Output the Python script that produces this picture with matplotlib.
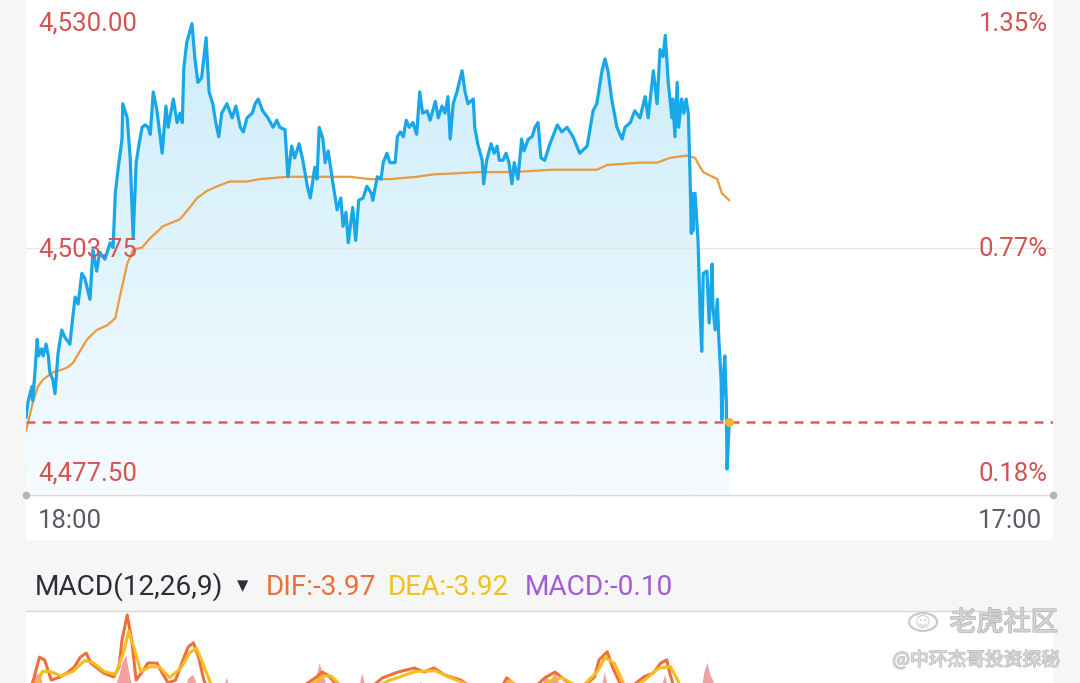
import numpy as np
import matplotlib
matplotlib.use("Agg")
import matplotlib.pyplot as plt
from matplotlib.patches import Polygon, Rectangle, Circle
from matplotlib.colors import LinearSegmentedColormap
import matplotlib.patheffects as pe

# ---------------- data ----------------
# minutes after 18:00 and last price
price_t = [0, 3, 8, 9, 12, 15, 17, 21, 23, 27,
           30, 32, 36, 39, 43, 48, 52, 59, 62, 66,
           70, 75, 79, 86, 90, 95, 99, 106, 113, 117,
           120, 124, 129, 130, 136, 140, 144, 148, 152, 156,
           160, 164, 167, 171, 176, 183, 188, 191, 198, 203,
           207, 210, 212, 216, 223, 227, 231, 236, 242, 246,
           251, 255, 259, 263, 270, 277, 282, 288, 292, 297,
           304, 308, 312, 318, 325, 332, 337, 341, 348, 352,
           357, 361, 367, 372, 378, 382, 388, 391, 394, 399,
           402, 406, 413, 418, 423, 426, 430, 433, 439, 443,
           447, 453, 458, 464, 466, 472, 477, 480, 485, 489,
           496, 499, 503, 507, 511, 515, 520, 525, 529, 533,
           539, 543, 550, 554, 559, 563, 567, 570, 574, 579,
           586, 590, 594, 601, 603, 607, 613, 615, 619, 625,
           629, 633, 636, 641, 645, 649, 653, 656, 661, 666,
           669, 675, 680, 684, 688, 692, 697, 704, 714, 720,
           727, 735, 744, 754, 762, 767, 774, 778, 782, 787,
           794, 801, 805, 812, 818, 825, 832, 836, 843, 848,
           852, 856, 859, 863, 868, 869, 872, 875, 877, 881,
           884, 887, 890, 892, 894, 895, 896, 899, 903, 906,
           908, 910, 915, 918, 922, 923, 926, 929, 931, 934,
           935, 937, 939, 941, 942, 945]
price = [4485.75, 4487.50, 4489.00, 4487.50, 4490.50, 4494.00, 4492.25, 4493.00, 4492.25, 4493.50,
         4492.25, 4490.50, 4489.75, 4488.25, 4492.50, 4495.00, 4494.25, 4493.50, 4495.75, 4498.50,
         4497.75, 4501.00, 4500.50, 4498.25, 4503.50, 4501.25, 4503.25, 4502.50, 4504.25, 4503.75,
         4509.50, 4512.25, 4515.25, 4519.00, 4517.50, 4513.25, 4504.75, 4512.75, 4514.75, 4516.50,
         4516.75, 4516.50, 4515.75, 4520.25, 4518.25, 4513.75, 4518.75, 4516.50, 4519.50, 4517.00,
         4518.00, 4517.00, 4522.75, 4525.50, 4527.50, 4523.75, 4521.25, 4521.75, 4526.00, 4520.25,
         4519.00, 4517.00, 4515.50, 4518.00, 4519.00, 4517.50, 4518.75, 4516.50, 4516.00, 4517.50,
         4518.00, 4519.00, 4519.50, 4518.25, 4517.50, 4516.50, 4517.25, 4516.50, 4516.25, 4511.25,
         4514.50, 4513.25, 4514.75, 4513.00, 4510.25, 4509.00, 4512.25, 4511.00, 4516.50, 4515.25,
         4512.75, 4514.00, 4510.25, 4507.75, 4509.00, 4506.00, 4507.50, 4504.25, 4508.00, 4504.50,
         4508.75, 4509.00, 4510.25, 4509.50, 4508.75, 4511.25, 4511.00, 4512.75, 4513.75, 4512.75,
         4512.75, 4515.50, 4516.00, 4515.50, 4517.25, 4516.50, 4517.00, 4515.75, 4520.25, 4518.00,
         4518.25, 4517.25, 4519.25, 4517.50, 4518.75, 4518.00, 4519.75, 4515.25, 4519.00, 4520.25,
         4522.50, 4520.25, 4519.00, 4519.50, 4516.50, 4514.75, 4513.00, 4510.50, 4513.00, 4514.75,
         4513.75, 4514.50, 4513.00, 4513.00, 4513.75, 4512.75, 4510.50, 4512.75, 4511.00, 4515.25,
         4514.00, 4515.25, 4515.50, 4516.50, 4517.00, 4513.25, 4513.00, 4514.75, 4516.75, 4516.00,
         4516.50, 4515.50, 4513.75, 4514.50, 4518.25, 4519.00, 4522.50, 4523.75, 4522.50, 4519.50,
         4516.50, 4515.25, 4516.50, 4517.00, 4518.25, 4517.50, 4519.75, 4517.50, 4522.50, 4519.00,
         4524.75, 4524.00, 4526.25, 4521.25, 4517.50, 4519.50, 4515.50, 4521.25, 4516.50, 4519.50,
         4518.00, 4519.50, 4518.00, 4512.25, 4505.25, 4509.50, 4505.50, 4509.50, 4504.50, 4496.50,
         4492.75, 4501.00, 4501.25, 4495.75, 4502.00, 4497.50, 4495.00, 4498.25, 4494.00, 4489.75,
         4485.50, 4489.75, 4492.25, 4487.50, 4480.25, 4485.25]

# average price line
avg_t = [0, 9, 16, 23, 36, 46, 55, 63, 82, 95, 109, 120, 126, 136, 144, 156, 167, 184,
         207, 220, 230, 243, 257, 274, 297, 314, 351, 404, 435, 462, 489, 525, 547, 610,
         654, 708, 767, 781, 825, 848, 865, 888, 899, 906, 910, 929, 935, 945]
avg_p = [4484.25, 4487.25, 4489.00, 4489.75, 4490.50, 4490.75, 4491.00, 4491.50, 4494.00,
         4495.00, 4495.50, 4496.25, 4498.50, 4502.00, 4503.50, 4503.75, 4504.75, 4506.00,
         4506.75, 4508.00, 4509.00, 4509.75, 4510.25, 4510.75, 4510.75, 4511.00, 4511.25,
         4511.25, 4511.25, 4511.00, 4511.00, 4511.25, 4511.50, 4511.75, 4511.75, 4512.00,
         4512.00, 4512.50, 4512.75, 4512.75, 4513.25, 4513.50, 4513.25, 4512.25, 4511.75,
         4511.00, 4509.50, 4508.75]

# MACD
dif_t = [0, 10, 18, 25, 34, 46, 55, 65, 73, 81, 87, 94, 104, 118, 125, 129, 136, 142, 148, 155,
         164, 176, 183, 191, 201, 211, 218, 225, 232, 239, 247, 264, 299, 340, 368, 389, 398,
         407, 423, 451, 479, 500, 522, 535, 548, 563, 584, 604, 637, 646, 657, 677, 697, 711,
         724, 744, 764, 770, 781, 788, 798, 809, 820, 830, 843, 853, 861, 865, 869, 879, 892,
         906, 926, 945]
dif_v = [-0.32, 0.32, 1.06, 0.97, 0.32, 0.42, 0.55, 0.74, 1.06, 1.19, 0.87, 0.74, 0.55, 0.42,
         0.74, 1.61, 2.42, 1.61, 0.32, 0.55, 0.87, 0.87, 0.55, 0.23, 0.32, 0.97, 1.39, 1.52,
         1.06, 0.32, -0.16, -0.32, -0.48, 0.0, 0.06, 0.39, 0.58, 0.45, 0.0, -0.16, 0.39, 0.58,
         0.71, 0.58, 0.71, 0.48, 0.32, 0.0, 0.0, 0.39, 0.16, -0.06, 0.39, 0.58, 0.32, 0.0,
         0.42, 0.97, 1.23, 0.74, 0.23, 0.0, 0.23, 0.42, 0.55, 0.87, 0.97, 0.55, 0.23, -0.32,
         -1.61, -2.90, -3.55, -3.97]
dea_t = [0, 14, 22, 32, 48, 63, 79, 89, 105, 120, 131, 138, 146, 154, 167, 179, 193, 208, 220,
         229, 237, 250, 270, 301, 343, 374, 400, 410, 427, 456, 487, 524, 550, 570, 606, 640,
         650, 662, 685, 705, 720, 745, 768, 778, 791, 804, 825, 850, 866, 876, 885, 900, 915,
         930, 945]
dea_v = [-0.25, 0.10, 0.60, 0.60, 0.45, 0.60, 0.95, 0.90, 0.60, 0.50, 1.20, 1.90, 1.30, 0.60,
         0.75, 0.75, 0.40, 0.70, 1.20, 1.35, 0.90, 0.10, -0.25, -0.40, -0.05, 0.05, 0.45, 0.45,
         0.05, -0.10, 0.30, 0.60, 0.62, 0.40, 0.05, 0.05, 0.30, 0.12, 0.00, 0.30, 0.40, 0.05,
         0.60, 1.05, 0.85, 0.15, 0.20, 0.70, 0.75, 0.30, -0.20, -1.30, -2.70, -3.40, -3.92]
hist_t = [0, 6, 13, 18, 23, 28, 118, 125, 129, 134, 138, 143, 212, 218, 224, 229, 235, 264,
          269, 275, 386, 390, 394, 400, 407, 446, 451, 457, 524, 530, 535, 692, 697, 704, 711,
          718, 772, 777, 782, 852, 858, 863, 907, 911, 915, 919, 923, 927, 945]
hist_v = [0, 0, 0.5, 0.55, 0.1, 0, 0, 0.5, 0.9, 1.13, 0.6, 0, 0, 0.4, 0.5, 0.2, 0, 0, 0.4, 0,
          0, 0.5, 0.87, 0.4, 0, 0, 0.55, 0, 0, 0.3, 0, 0, 0.5, 0.3, 0.6, 0, 0, 0.6, 0, 0, 0.5,
          0, 0, 0.6, 0.9, 0.5, 0.3, 0, -0.10]

y_labels = ["4,530.00", "4,503.75", "4,477.50"]
pct_labels = ["1.35%", "0.77%", "0.18%"]
time_labels = ["18:00", "17:00"]
session_minutes = 1380
y_lo, y_mid, y_hi = 4477.50, 4503.75, 4530.00

# ---------------- figure ----------------
plt.rcParams["font.family"] = ["Roboto", "DejaVu Sans"]
W, H = 1080, 683
fig = plt.figure(figsize=(W / 100, H / 100), dpi=100, facecolor="#f6f6f6")


def fx(x):
    return x / W


def fy(y):
    return 1 - y / H


# white panels
fig.add_artist(Rectangle((fx(26), fy(540)), 1027 / W, 540 / H, transform=fig.transFigure,
                         facecolor="white", edgecolor="none", zorder=0))
fig.add_artist(Rectangle((fx(26), 0), 1027 / W, (H - 610.5) / H, transform=fig.transFigure,
                         facecolor="white", edgecolor="none", zorder=0))
fig.add_artist(plt.Line2D([fx(26), fx(1053)], [fy(610.5), fy(610.5)], transform=fig.transFigure,
                          color="#d6d6d6", lw=0.9, zorder=1))

# main price axes
ax = fig.add_axes([fx(26), fy(495), 1027 / W, 495 / H])
ax.set_xlim(0, session_minutes)
ax.set_ylim(y_lo, y_hi)
ax.axis("off")
ax.patch.set_alpha(0)

# gradient fill under line
verts = list(zip(price_t, price)) + [(price_t[-1], y_lo), (price_t[0], y_lo)]
poly = Polygon(verts, closed=True, facecolor="none", edgecolor="none")
ax.add_patch(poly)
cmap = LinearSegmentedColormap.from_list("fill", ["#cbecfa", "#e0f4fc", "#f7fcff"])
grad = np.linspace(0, 1, 256).reshape(-1, 1)
im = ax.imshow(grad, extent=[0, session_minutes, y_lo, y_hi], origin="upper",
               aspect="auto", cmap=cmap, zorder=1)
im.set_clip_path(poly)

ax.axhline(y_mid, color="#e6e6e6", lw=0.9, zorder=1.5)
ax.axhline(y_lo, color="#dcdcdc", lw=1.0, zorder=1.5, clip_on=False)
ax.plot([0, session_minutes], [y_lo, y_lo], "o", color="#b5b5b5", ms=4.5, clip_on=False, zorder=1.6)

ax.plot(avg_t, avg_p, color="#ea9a3d", lw=1.6, zorder=2.5, solid_capstyle="round")
ax.plot(price_t, price, color="#18a7e8", lw=2.3, zorder=3, solid_joinstyle="round")
ax.axhline(price[-1], color="#e0605a", lw=1.8, ls=(0, (3.6, 2.8)), zorder=2.8)
ax.plot(price_t[-1], price[-1], "o", color="#f2b530", ms=5.5, zorder=4)

# axis labels
red = "#d45350"
fs = 18.5
fig.text(fx(38), fy(31), y_labels[0], color=red, fontsize=fs, ha="left", va="baseline")
fig.text(fx(38), fy(256), y_labels[1], color=red, fontsize=fs, ha="left", va="baseline", zorder=5)
fig.text(fx(38), fy(481), y_labels[2], color=red, fontsize=fs, ha="left", va="baseline")
fig.text(fx(1048), fy(31), pct_labels[0], color=red, fontsize=fs, ha="right", va="baseline")
fig.text(fx(1048), fy(256), pct_labels[1], color=red, fontsize=fs, ha="right", va="baseline")
fig.text(fx(1048), fy(481), pct_labels[2], color=red, fontsize=fs, ha="right", va="baseline")
fig.text(fx(38), fy(528), time_labels[0], color="#585c68", fontsize=fs, ha="left", va="baseline")
fig.text(fx(1042), fy(528), time_labels[1], color="#585c68", fontsize=fs, ha="right", va="baseline")

# MACD header
hfs = 20.2
fig.text(fx(34.5), fy(595), "MACD(12,26,9)", color="#2a2e38", fontsize=hfs, ha="left", va="baseline")
fig.text(fx(243), fy(590), "▼", color="#2a2e38", fontsize=10.5, ha="center", va="baseline",
         family=["DejaVu Sans"])
fig.text(fx(266), fy(595), "DIF:%.2f" % dif_v[-1], color="#e8713a", fontsize=hfs, ha="left", va="baseline")
fig.text(fx(388), fy(595), "DEA:%.2f" % dea_v[-1], color="#f0c11c", fontsize=hfs, ha="left", va="baseline")
fig.text(fx(525), fy(595), "MACD:%.2f" % hist_v[-1], color="#a45ad6", fontsize=hfs, ha="left", va="baseline")

# MACD axes (extends below the visible figure)
mtop, mbot = 611, 830
ax2 = fig.add_axes([fx(26), fy(mbot), 1027 / W, (mbot - mtop) / H])
ax2.set_xlim(0, session_minutes)
ax2.set_ylim((690 - mbot) / 31, (690 - mtop) / 31)
ax2.axis("off")
ax2.patch.set_alpha(0)
ax2.fill_between(hist_t, 0, hist_v, color="#f4a0a0", lw=0, zorder=1)
ax2.plot(dif_t, dif_v, color="#ef6f3a", lw=2.2, zorder=2)
ax2.plot(dea_t, dea_v, color="#f7bd1c", lw=2.2, zorder=3)

# watermark
wm = "#c9c9c9"
fig.add_artist(Circle((fx(923), fy(622)), 14 / W, transform=fig.transFigure, facecolor="none",
                      edgecolor=wm, lw=1.6, zorder=6))
fig.text(fx(923), fy(622), "☺", color=wm, fontsize=11, ha="center", va="center",
         family=["DejaVu Sans"], zorder=6)
fig.text(fx(1058), fy(623), "老虎社区", color="#d4d4d4", fontsize=19.5, ha="right", va="center",
         family=["Noto Sans CJK SC", "DejaVu Sans"], zorder=6,
         path_effects=[pe.withStroke(linewidth=1.2, foreground="#b8b8b8")])
fig.text(fx(1060), fy(660), "@中环杰哥投资探秘", color="#d8d8d8", fontsize=13.5, ha="right", va="center",
         family=["Noto Sans CJK SC", "DejaVu Sans"], zorder=6,
         path_effects=[pe.withStroke(linewidth=1.0, foreground="#bdbdbd")])

fig.savefig("out.png", dpi=100, facecolor=fig.get_facecolor())
